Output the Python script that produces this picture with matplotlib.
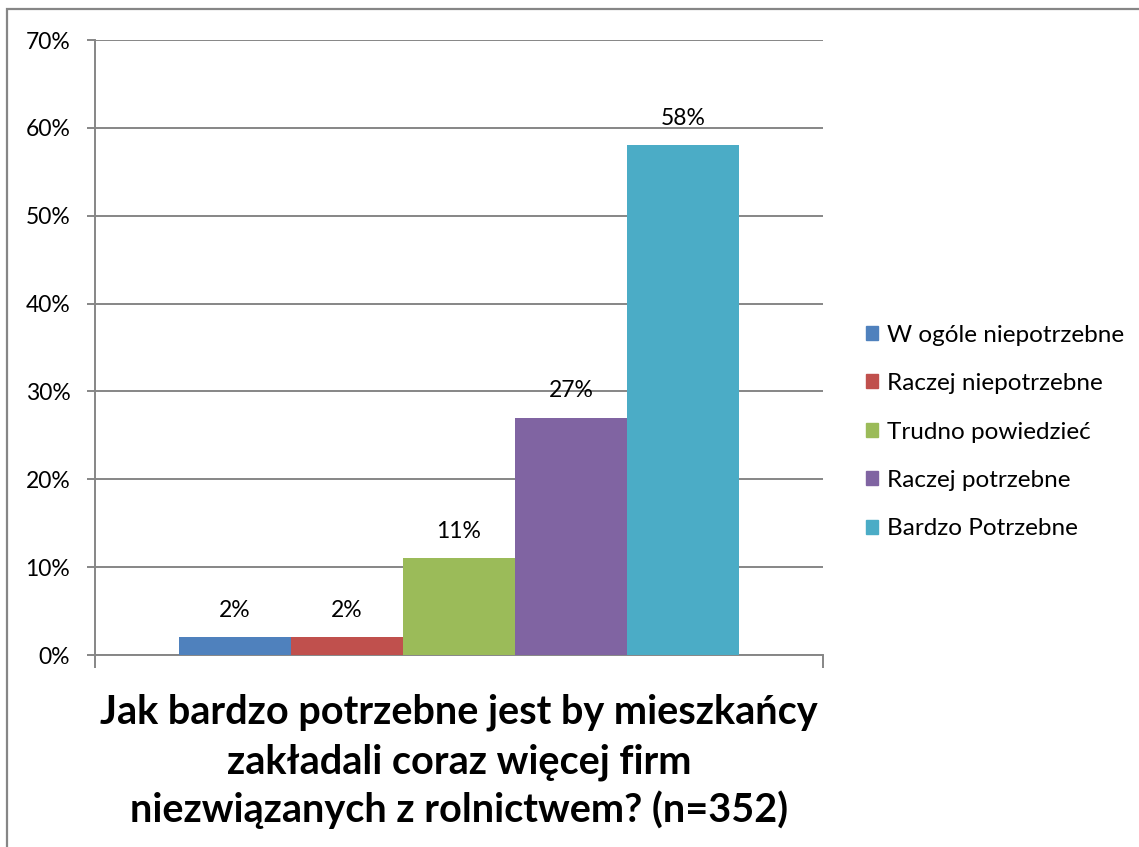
import matplotlib
matplotlib.use('Agg')
import matplotlib.pyplot as plt
from matplotlib.patches import Rectangle, Patch
from matplotlib.ticker import FuncFormatter

# dane z wykresu
kategorie = ['W ogóle niepotrzebne', 'Raczej niepotrzebne', 'Trudno powiedzieć',
             'Raczej potrzebne', 'Bardzo Potrzebne']
wartosci = [2, 2, 11, 27, 58]
kolory = ['#4F81BD', '#C0504D', '#9BBB59', '#8064A2', '#4BACC6']
tytul = ['Jak bardzo potrzebne jest by mieszkańcy',
         'zakładali coraz więcej firm',
         'niezwiązanych z rolnictwem? (n=352)']

plt.rcParams['font.family'] = ['Lato', 'DejaVu Sans']

W, H = 1139, 847
fig = plt.figure(figsize=(W / 100, H / 100), dpi=100)
ax = fig.add_axes([95 / W, 1 - 655 / H, (823 - 95) / W, (655 - 40) / H])

szary = '#868686'

# szerokosc slupka jak w Excelu (odstep 150%)
w = 1 / 6.5
for i, (k, v, c) in enumerate(zip(kategorie, wartosci, kolory)):
    x = 0.75 * w + i * w
    ax.bar(x, v, width=w, align='edge', color=c, label=k, zorder=3)
    ax.text(x + w / 2, v + 3.1, f'{v}%', ha='center', va='center', fontsize=16.5, zorder=4)

ax.set_xlim(0, 1)
ax.set_ylim(0, 70)
ax.set_yticks(range(0, 71, 10))
ax.yaxis.set_major_formatter(FuncFormatter(lambda v, p: f'{v:.0f}%'))
ax.tick_params(axis='y', length=5.8, width=1.4, color=szary, labelsize=16.5, pad=12)
ax.set_xticks([0, 1])
ax.set_xticklabels([])
ax.tick_params(axis='x', length=9.4, width=1.4, color=szary)
ax.grid(axis='y', color=szary, linewidth=1.4, zorder=0)
for s in ['top', 'right']:
    ax.spines[s].set_visible(False)
for s in ['left', 'bottom']:
    ax.spines[s].set_color(szary)
    ax.spines[s].set_linewidth(1.4)

# tytul pod osia - trzy linie
for linia, yb in zip(tytul, [723, 773, 822]):
    fig.text(459 / W, 1 - yb / H, linia, ha='center', va='baseline',
             fontsize=28.5, fontweight='bold')

uchwyty = [Patch(color=c, label=k) for k, c in zip(kategorie, kolory)]
fig.legend(handles=uchwyty, loc='center left', bbox_to_anchor=(866 / W, 1 - 432 / H),
           frameon=False, fontsize=17.5, handlelength=0.5, handleheight=0.5,
           handletextpad=0.37, labelspacing=1.13, borderpad=0, borderaxespad=0)

# ramka wokol wykresu
fig.patches.append(Rectangle((7 / W, -0.1), 1.2, 1.1 - 9 / H, transform=fig.transFigure,
                             fill=False, edgecolor=szary, linewidth=1.6))

fig.savefig('out.png', dpi=100)
